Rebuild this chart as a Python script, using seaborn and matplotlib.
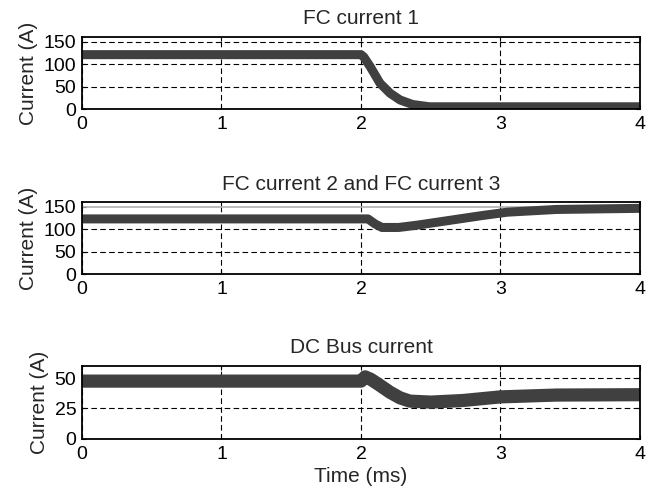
import numpy as np
import pandas as pd
import matplotlib
matplotlib.use("Agg")
import matplotlib.pyplot as plt
import seaborn as sns

# values (time in ms, current in A)
fc1_t = [0, 2.0, 2.02, 2.065, 2.136, 2.208, 2.28, 2.37, 2.49, 3.0, 4.0]
fc1_i = [121, 121, 116, 95, 58, 36, 21, 11, 6, 6, 6]

fc2_t = [0, 2.05, 2.1, 2.15, 2.27, 2.4, 2.64, 2.88, 3.05, 3.4, 4.0]
fc2_i = [123, 123, 112, 104, 104, 109, 120, 131, 138, 144, 146.5]

dc_t = [0, 2.0, 2.03, 2.07, 2.136, 2.208, 2.28, 2.35, 2.5, 2.73, 3.0, 3.4, 4.0]
dc_i = [47.5, 47.5, 51, 49, 44, 38.3, 33.7, 31, 30.2, 31.5, 34.5, 36, 36.3]

x_ticks = [0, 1, 2, 3, 4]
titles = ["FC current 1", "FC current 2 and FC current 3", "DC Bus current"]

sns.set_theme(style="ticks")
plt.rcParams["font.family"] = ["Liberation Sans", "DejaVu Sans"]

line_col = "#404040"

fig = plt.figure(figsize=(6.56, 4.95), dpi=100)
ax1 = fig.add_axes([0.125, 0.7788, 0.8506, 0.1465])
ax2 = fig.add_axes([0.125, 0.4459, 0.8506, 0.1455])
ax3 = fig.add_axes([0.125, 0.1137, 0.8506, 0.1470])

sns.lineplot(x=fc1_t, y=fc1_i, ax=ax1, color=line_col, linewidth=6.5,
             solid_capstyle="butt")
sns.lineplot(x=fc2_t, y=fc2_i, ax=ax2, color=line_col, linewidth=6.5,
             solid_capstyle="butt")
sns.lineplot(x=dc_t, y=dc_i, ax=ax3, color=line_col, linewidth=9.5,
             solid_capstyle="butt")

setup = [(ax1, 160, [0, 50, 100, 150]),
         (ax2, 160, [0, 50, 100, 150]),
         (ax3, 60, [0, 25, 50])]

for (ax, ymax, yt), title in zip(setup, titles):
    ax.set_xlim(0, 4)
    ax.set_ylim(0, ymax)
    ax.set_xticks(x_ticks)
    ax.set_yticks(yt)
    ax.grid(True, color="black", linestyle=(0, (5, 3)), linewidth=0.8)
    ax.set_axisbelow(True)
    for s in ax.spines.values():
        s.set_visible(True)
        s.set_color("black")
        s.set_linewidth(1.3)
    ax.tick_params(direction="in", length=3, width=0.8, labelsize=14,
                   top=True, right=True, colors="black", pad=4)
    ax.tick_params(axis="x", pad=5)
    ax.set_title(title, fontsize=15, pad=9)
    ax.set_ylabel("Current (A)", fontsize=15, labelpad=4)

# the 150 A line in the middle panel shows as a light solid line
ax2.yaxis.get_gridlines()[3].set_visible(False)
ax2.axhline(150, color="#b0b0b0", linewidth=1.2, zorder=1)

ax3.set_xlabel("Time (ms)", fontsize=15, labelpad=3)

fig.savefig("out.png", dpi=100)
